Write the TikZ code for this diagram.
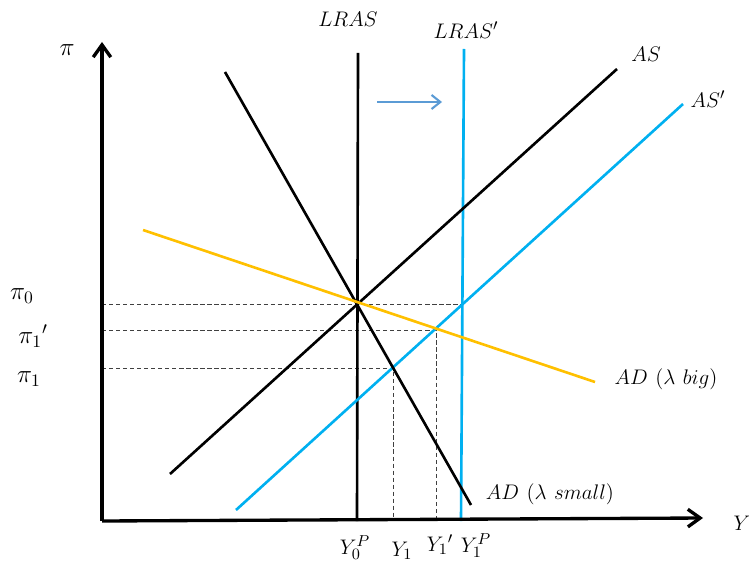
\documentclass[tikz,border=0pt]{standalone}
\usetikzlibrary{arrows.meta}
\definecolor{asblue}{RGB}{0,176,240}
\definecolor{adgold}{RGB}{255,192,0}
\definecolor{shiftblue}{RGB}{91,155,213}
\tikzset{
  curve/.style={line width=1.5pt},
  guide/.style={line width=0.45pt, black!75, dash pattern=on 2.4pt off 1.6pt},
  axis/.style={line width=1.9pt, -{Straight Barb[length=7pt,width=10pt]}},
  lbl/.style={font=\fontsize{13}{15}\selectfont, inner sep=0pt},
  plbl/.style={font=\fontsize{14.5}{16}\selectfont, inner sep=0pt},
}
\begin{document}
\begin{tikzpicture}[x=0.02cm, y=-0.02cm]
    \useasboundingbox (0,0) rectangle (749,567);
    % end points of the curves
    \coordinate (o) at (102,521);
    \coordinate (ytop) at (102,42);
    \coordinate (xend) at (703,518);
    \coordinate (lras-t) at (358,53);  \coordinate (lras-b) at (357,521);
    \coordinate (lrasp-t) at (464,49); \coordinate (lrasp-b) at (461,521);
    \coordinate (as-a) at (170,474);   \coordinate (as-b) at (617,69);
    \coordinate (asp-a) at (236,510);  \coordinate (asp-b) at (683,104);
    \coordinate (ads-a) at (225,72);   \coordinate (ads-b) at (471,505);
    \coordinate (adb-a) at (143,230);  \coordinate (adb-b) at (595,382);
    % equilibrium points and their feet on the axes
    \coordinate (e0) at (357,304);  \coordinate (e0r) at (462,304);  \coordinate (p0) at (102,304);
    \coordinate (e1p) at (436,330); \coordinate (p1p) at (102,330);  \coordinate (y1p) at (436,521);
    \coordinate (e1) at (393,368);  \coordinate (p1) at (102,368);   \coordinate (y1) at (393,521);
    \coordinate (sh-a) at (377,102); \coordinate (sh-b) at (442,102);

    \draw[guide] (p0) -- (e0r);
    \draw[guide] (p1p) -- (e1p) -- (y1p);
    \draw[guide] (p1) -- (e1) -- (y1);

    \draw[curve] (lras-t) -- (lras-b);
    \draw[curve, asblue] (lrasp-t) -- (lrasp-b);
    \draw[curve] (as-a) -- (as-b);
    \draw[curve, asblue] (asp-a) -- (asp-b);
    \draw[curve] (ads-a) -- (ads-b);
    \draw[curve, adgold] (adb-a) -- (adb-b);
    \draw[line width=1.2pt, shiftblue, -{Straight Barb[length=5pt,width=8pt]}] (sh-a) -- (sh-b);

    \draw[axis] (o) -- (ytop);
    \draw[axis] (o) -- (xend);

    \node[plbl] (pi) at (67,50) {$\pi$};
    \node[lbl] (ylab) at (742,523) {$Y$};
    \node[lbl] (lras) at (348,19) {$LRAS$};
    \node[lbl] (lrasp) at (466,30) {$LRAS'$};
    \node[lbl] (as) at (646,54) {$AS$};
    \node[lbl] (asp) at (708,99) {$AS'$};
    \node[lbl] (adbig) at (666,379) {$AD\ (\lambda\ big)$};
    \node[lbl] (adsmall) at (550,494) {$AD\ (\lambda\ small)$};
    \node[plbl] (pi0) at (22,296) {$\pi_0$};
    \node[plbl] (pi1p) at (33,336) {$\pi_1{}'$};
    \node[plbl] (pi1) at (29,379) {$\pi_1$};
    \node[lbl] (y0P) at (355,548) {$Y_0^P$};
    \node[lbl] (y1lab) at (402,551) {$Y_1$};
    \node[lbl] (y1plab) at (440,545) {$Y_1{}'$};
    \node[lbl] (y1P) at (476,546) {$Y_1^P$};
\end{tikzpicture}
\end{document}
